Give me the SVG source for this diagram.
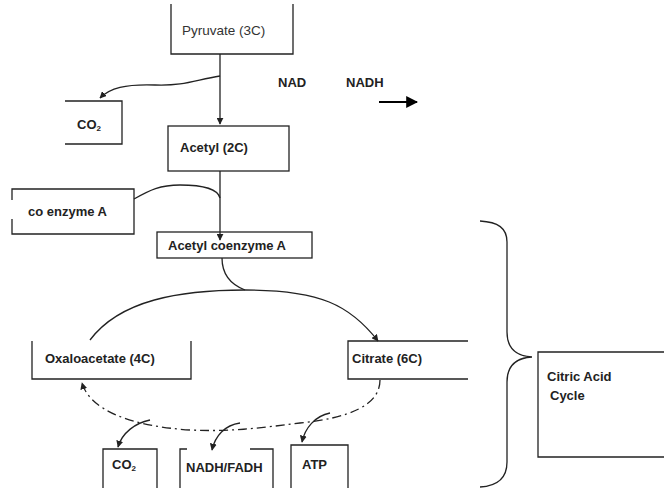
<svg xmlns="http://www.w3.org/2000/svg" width="664" height="488" viewBox="0 0 664 488">
<defs>
<marker id="ah" viewBox="0 0 10 10" refX="9" refY="5" markerWidth="7" markerHeight="7" orient="auto-start-reverse" markerUnits="userSpaceOnUse"><path d="M0,0 L10,5 L0,10 z" fill="#222"/></marker>
<marker id="ahb" viewBox="0 0 10 10" refX="9" refY="5" markerWidth="12" markerHeight="12" orient="auto" markerUnits="userSpaceOnUse"><path d="M0,0 L10,5 L0,10 z" fill="#000"/></marker>
</defs>
<style>
.box{fill:none;stroke:#222;stroke-width:1.3}
.t{font-family:"Liberation Sans",Arial,sans-serif;font-size:13px;font-weight:bold;fill:#222}
.tr{font-family:"Liberation Sans",Arial,sans-serif;font-size:13.5px;fill:#333}
.c{fill:none;stroke:#222;stroke-width:1.3}
.dd{fill:none;stroke:#222;stroke-width:1.3;stroke-dasharray:9 4 2 4}
</style>
<rect width="664" height="488" fill="#fff"/>
<g id="pyruvate"><path class="box" d="M171,4 V54 H293 V4"/><text class="tr" x="182" y="35">Pyruvate (3C)</text></g>
<g id="co2-top"><path class="box" d="M65,101 H122 V144 H65"/><text class="t" x="77" y="129">CO<tspan font-size="8" dy="2">2</tspan></text></g>
<g id="nad"><text class="t" x="278" y="87">NAD</text><text class="t" x="346" y="87">NADH</text></g>
<g id="acetyl"><rect class="box" x="168" y="126" width="121" height="45"/><text class="t" x="180" y="152">Acetyl (2C)</text></g>
<g id="coenzyme"><path class="box" d="M12,200 V189 H134 V234 H12 V219"/><text class="t" x="28" y="216">co enzyme A</text></g>
<g id="acetyl-coa"><rect class="box" x="157" y="232" width="155" height="26"/><text class="t" x="168" y="250">Acetyl coenzyme A</text></g>
<g id="oxaloacetate"><path class="box" d="M32,341 V379 H191 V341"/><text class="t" x="45" y="363">Oxaloacetate (4C)</text></g>
<g id="citrate"><path class="box" d="M468,341 H348 V379 H468"/><text class="t" x="352" y="363">Citrate (6C)</text></g>
<g id="co2-bottom"><path class="box" d="M103,490 V449 H157 V490"/><text class="t" x="112" y="469">CO<tspan font-size="8" dy="2">2</tspan></text></g>
<g id="nadh-fadh"><path class="box" d="M187,449 H180 V490 M250,449 H273 V490"/><text class="t" x="186" y="472">NADH/FADH</text></g>
<g id="atp"><path class="box" d="M291,490 V445 H348 V490"/><text class="t" x="302" y="469">ATP</text></g>
<g id="citric-cycle"><path class="box" d="M666,352 H538 V457 H666"/><text class="t" x="547" y="381">Citric Acid</text><text class="t" x="550" y="400">Cycle</text></g>
<g id="brace"><path class="c" d="M480,221 C498,222 507,228 507,242 V332 C507,348 515,356 532,357 C515,358 507,366 507,382 V462 C507,478 498,486 480,487"/></g>
<g id="connectors">
<path class="c" d="M220,54 V124" marker-end="url(#ah)"/>
<path class="c" d="M220,76 C195,80 185,86 155,85 C125,84 110,88 100,98" marker-end="url(#ah)"/>
<path d="M379,102 H417" stroke="#000" stroke-width="2" marker-end="url(#ahb)"/>
<path class="c" d="M220,171 V240" marker-end="url(#ah)"/>
<path class="c" d="M134,199 C150,190 160,185 180,185 C205,185 218,190 220,198"/>
<path class="c" d="M222,258 C222,275 232,285 245,290"/>
<path class="c" d="M90,340 C120,300 180,290 245,290 C320,290 350,305 378,341" marker-end="url(#ah)"/>
<path class="dd" d="M380,380 C380,405 350,418 300,423 C260,428 230,432 190,430 C130,426 90,410 82,383" marker-end="url(#ah)"/>
<path class="c" d="M150,420 C135,423 122,433 118,447" marker-end="url(#ah)"/>
<path class="c" d="M240,423 C225,425 215,436 212,450" marker-end="url(#ah)"/>
<path class="c" d="M330,413 C315,416 305,428 302,442" marker-end="url(#ah)"/>
</g>
</svg>
